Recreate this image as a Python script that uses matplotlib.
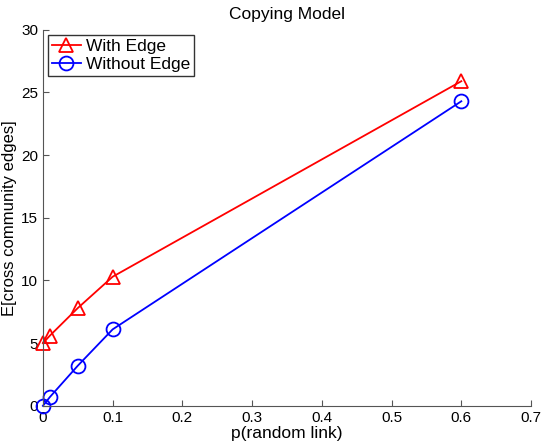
import matplotlib
matplotlib.use('Agg')
import matplotlib.pyplot as plt

plt.rcParams['font.family'] = ['Liberation Sans', 'DejaVu Sans']

# data
p = [0, 0.01, 0.05, 0.1, 0.6]
with_edge = [5.0, 5.6, 7.8, 10.3, 25.9]
without_edge = [0.0, 0.7, 3.2, 6.1, 24.3]

fig = plt.figure(figsize=(5.43, 4.45), dpi=100)
ax = fig.add_axes([0.079, 0.088, 0.899, 0.845])

ax.plot(p, with_edge, color='red', marker='^', markersize=10, markerfacecolor='none',
        markeredgewidth=1.3, linewidth=1.3, label='With Edge', clip_on=False)
ax.plot(p, without_edge, color='blue', marker='o', markersize=10, markerfacecolor='none',
        markeredgewidth=1.3, linewidth=1.3, label='Without Edge', clip_on=False)

ax.set_xlim(0, 0.7)
ax.set_ylim(0, 30)
ax.set_xticks([0, 0.1, 0.2, 0.3, 0.4, 0.5, 0.6, 0.7])
ax.set_xticklabels(['0', '0.1', '0.2', '0.3', '0.4', '0.5', '0.6', '0.7'])
ax.set_yticks([0, 5, 10, 15, 20, 25, 30])
ax.spines['top'].set_visible(False)
ax.spines['right'].set_visible(False)
for s in ('left', 'bottom'):
    ax.spines[s].set_color('#555555')
ax.tick_params(direction='in', length=4, labelsize=11, colors='#555555', labelcolor='black')

ax.set_title('Copying Model', fontsize=12.5, pad=8)
ax.set_xlabel('p(random link)', fontsize=12.5, labelpad=1)
ax.set_ylabel('E[cross community edges]', fontsize=12, labelpad=3)

leg = ax.legend(loc='upper left', fontsize=12.5, fancybox=False, edgecolor='black',
                handlelength=1.7, borderpad=0.2, labelspacing=0.2, handletextpad=0.3,
                borderaxespad=0.3)
leg.get_frame().set_linewidth(1.0)

fig.savefig('out.png', dpi=100)
